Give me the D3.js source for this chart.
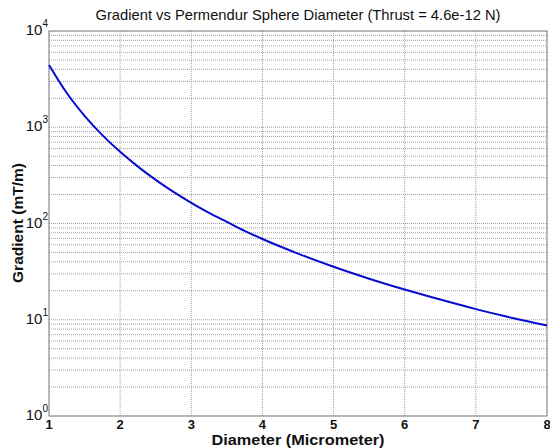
<!DOCTYPE html>
<html>
<head>
<meta charset="utf-8">
<script src="https://cdn.jsdelivr.net/npm/d3@7"></script>
<style>
  body { margin: 0; background: #fff; }
  text { font-family: "Liberation Sans", Arial, sans-serif; fill: #111; }
</style>
</head>
<body>
<div id="viz"><svg width="550" height="448"></svg></div>
<script>
// values
const diameters = [1, 1.25, 1.5, 1.75, 2, 2.25, 2.5, 2.75, 3, 3.25, 3.5, 3.75, 4, 4.5, 5, 5.5, 6, 6.5, 7, 7.5, 8]
const gradients = [4440, 2270, 1316, 828, 555, 390, 284, 213, 164, 129, 104, 84, 69, 48.7, 35.5, 26.7, 20.6, 16.2, 12.9, 10.5, 8.7]
const xTicks = [1, 2, 3, 4, 5, 6, 7, 8]
const yExponents = [0, 1, 2, 3, 4]

const margin = {left: 49, right: 3, top: 31, bottom: 32}
const width = 550, height = 448

const svg = d3.select("#viz").select("svg")

const x = d3.scaleLinear().domain([1, 8]).range([margin.left, width - margin.right])
const y = d3.scaleLog().domain([1, 10000]).range([height - margin.bottom, margin.top])

const gridG = svg.append("g").attr("id", "grid")

// minor + major horizontal grid
const yGrid = []
yExponents.slice(0, -1).forEach(e => {
    for (let k = 1; k < 10; k++) yGrid.push(k * Math.pow(10, e))
})
yGrid.push(10000)

gridG.selectAll("line.hgrid")
    .data(yGrid)
    .enter()
    .append("line")
    .attr("class", "hgrid")
    .attr("x1", x(1)).attr("x2", x(8))
    .attr("y1", d => y(d)).attr("y2", d => y(d))
    .attr("stroke", "#a0a0a0")
    .attr("stroke-width", 1)
    .attr("stroke-dasharray", "1,1")

gridG.selectAll("line.vgrid")
    .data(xTicks)
    .enter()
    .append("line")
    .attr("class", "vgrid")
    .attr("x1", d => x(d)).attr("x2", d => x(d))
    .attr("y1", y(1)).attr("y2", y(10000))
    .attr("stroke", "#a0a0a0")
    .attr("stroke-width", 1)
    .attr("stroke-dasharray", "1,1")

// box
svg.append("rect")
    .attr("x", x(1)).attr("y", y(10000))
    .attr("width", x(8) - x(1)).attr("height", y(1) - y(10000))
    .attr("fill", "none")
    .attr("stroke", "#888")
    .attr("stroke-width", 1)

// curve
const line = d3.line()
    .x((d, i) => x(diameters[i]))
    .y(d => y(d))
    .curve(d3.curveMonotoneX)

svg.append("path")
    .datum(gradients)
    .attr("d", line)
    .attr("fill", "none")
    .attr("stroke", "#0a0ad0")
    .attr("stroke-width", 2)

// x tick labels
svg.append("g")
    .selectAll("text")
    .data(xTicks)
    .enter()
    .append("text")
    .attr("x", d => x(d))
    .attr("y", y(1) + 13)
    .attr("text-anchor", "middle")
    .style("font-size", "13px")
    .style("font-weight", "bold")
    .text(d => d)

// y tick labels 10^n
const yLab = svg.append("g")
    .selectAll("text")
    .data(yExponents)
    .enter()
    .append("text")
    .attr("x", x(1) - 1)
    .attr("y", d => y(Math.pow(10, d)) + 4)
    .attr("text-anchor", "end")
    .style("font-size", "15px")
    .text("10")
yLab.append("tspan")
    .attr("dy", -8)
    .style("font-size", "10px")
    .text(d => d)

// title
svg.append("text")
    .attr("x", 298)
    .attr("y", 20)
    .attr("text-anchor", "middle")
    .attr("textLength", 405)
    .attr("lengthAdjust", "spacingAndGlyphs")
    .style("font-size", "15px")
    .text("Gradient vs Permendur Sphere Diameter (Thrust = 4.6e-12 N)")

// axis labels
svg.append("text")
    .attr("x", 298)
    .attr("y", 445)
    .attr("text-anchor", "middle")
    .attr("textLength", 173)
    .attr("lengthAdjust", "spacingAndGlyphs")
    .style("font-size", "14px")
    .style("font-weight", "bold")
    .text("Diameter (Micrometer)")

svg.append("text")
    .attr("transform", "translate(" + 23 + ", " + 223 + ") rotate(-90)")
    .attr("text-anchor", "middle")
    .attr("textLength", 120)
    .attr("lengthAdjust", "spacingAndGlyphs")
    .style("font-size", "15px")
    .style("font-weight", "bold")
    .text("Gradient (mT/m)")
</script>
</body>
</html>
